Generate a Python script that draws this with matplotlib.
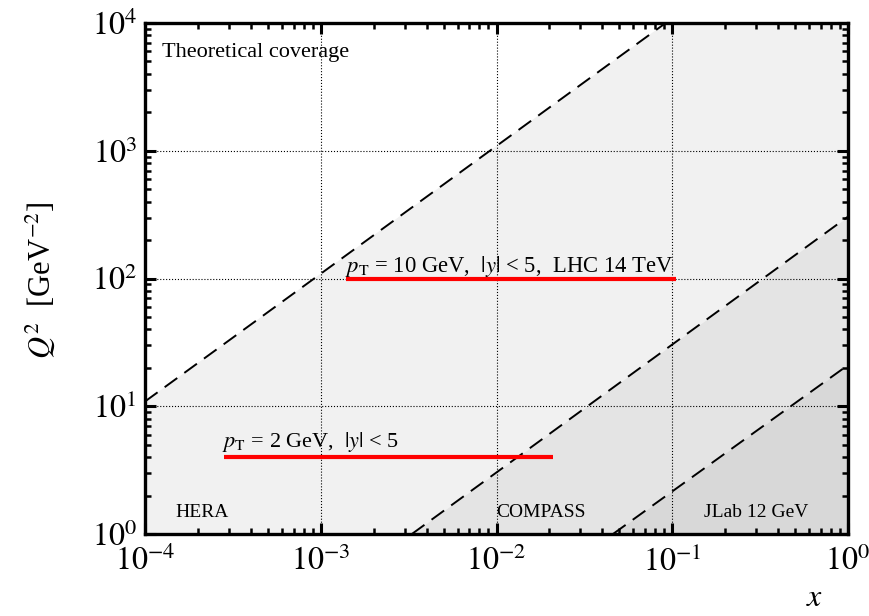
import numpy as np
import matplotlib
matplotlib.use("Agg")
import matplotlib.pyplot as plt
from matplotlib.ticker import LogLocator, NullFormatter

plt.rcParams["font.family"] = ["Liberation Serif", "DejaVu Serif"]
plt.rcParams["mathtext.fontset"] = "stix"

# kinematic limits (edge points)
hera_x = [1e-4, 1.0]
hera_q2 = [10.9, 1.09e5]
compass_x = [3.3e-3, 1.0]
compass_q2 = [1.0, 305.0]
jlab_x = [0.046, 1.0]
jlab_q2 = [1.0, 21.0]

# LHC pT coverage bands
pt10_x = [1.4e-3, 0.105]
pt10_q2 = [100.0, 100.0]
pt2_x = [2.8e-4, 0.021]
pt2_q2 = [4.0, 4.0]

x_ticks = [1e-4, 1e-3, 1e-2, 1e-1, 1e0]
x_tick_labels = [r"$10^{-4}$", r"$10^{-3}$", r"$10^{-2}$", r"$10^{-1}$", r"$10^{0}$"]
y_ticks = [1e0, 1e1, 1e2, 1e3, 1e4]
y_tick_labels = [r"$10^{0}$", r"$10^{1}$", r"$10^{2}$", r"$10^{3}$", r"$10^{4}$"]

fig = plt.figure(figsize=(8.69, 6.16), dpi=100)
ax = fig.add_axes([145 / 869, 1 - 534 / 616, 703 / 869, 511 / 616])
ax.set_xscale("log")
ax.set_yscale("log")
ax.set_xlim(1e-4, 1)
ax.set_ylim(1, 1e4)

# shaded regions
ax.fill_between(hera_x, hera_q2, 1, color="#f1f1f1", lw=0, zorder=0.5)
ax.fill_between(compass_x, compass_q2, 1, color="#e4e4e4", lw=0, zorder=0.6)
ax.fill_between(jlab_x, jlab_q2, 1, color="#d8d8d8", lw=0, zorder=0.7)

# dashed boundaries
dash = dict(color="black", lw=1.4, ls=(0, (8, 4.5)), zorder=3)
ax.plot(hera_x, hera_q2, **dash)
ax.plot(compass_x, compass_q2, **dash)
ax.plot(jlab_x, jlab_q2, **dash)

# red pT lines
ax.plot(pt10_x, pt10_q2, color="red", lw=3, solid_capstyle="butt", zorder=4)
ax.plot(pt2_x, pt2_q2, color="red", lw=3, solid_capstyle="butt", zorder=4)

ax.grid(True, which="major", color="black", ls=":", lw=0.8)

ax.set_xticks(x_ticks)
ax.set_xticklabels(x_tick_labels)
ax.set_yticks(y_ticks)
ax.set_yticklabels(y_tick_labels)
ax.xaxis.set_minor_locator(LogLocator(base=10, subs=np.arange(2, 10)))
ax.yaxis.set_minor_locator(LogLocator(base=10, subs=np.arange(2, 10)))
ax.xaxis.set_minor_formatter(NullFormatter())
ax.yaxis.set_minor_formatter(NullFormatter())
ax.tick_params(which="both", direction="in", top=True, right=True, labelsize=23)
ax.tick_params(which="major", length=8, width=2.2)
ax.tick_params(axis="x", which="major", pad=9)
ax.tick_params(axis="y", which="major", pad=6)
ax.tick_params(which="minor", length=4.5, width=1.8)
for sp in ax.spines.values():
    sp.set_linewidth(2.4)

# annotations
ax.text(0.024, 0.933, "Theoretical coverage", transform=ax.transAxes, fontsize=16)
ax.text(0.043, 0.033, "HERA", transform=ax.transAxes, fontsize=14)
ax.text(0.499, 0.033, "COMPASS", transform=ax.transAxes, fontsize=14)
ax.text(0.795, 0.033, "JLab 12 GeV", transform=ax.transAxes, fontsize=14)
ax.text(1.38e-3, 112, r"$p_{\rm T}$ = 10 GeV,  $|y|$ < 5,  LHC 14 TeV", fontsize=16.3)
ax.text(2.75e-4, 4.8, r"$p_{\rm T}$ = 2 GeV,  $|y|$ < 5", fontsize=16)

fig.text(40 / 869, 1 - 280 / 616, r"$Q^2$  [GeV$^{-2}$]", rotation=90,
         fontsize=22, ha="center", va="center")
fig.text(815 / 869, 1 - 598 / 616, r"$x$", fontsize=23, ha="center", va="center")

fig.savefig("out.png", dpi=100)
